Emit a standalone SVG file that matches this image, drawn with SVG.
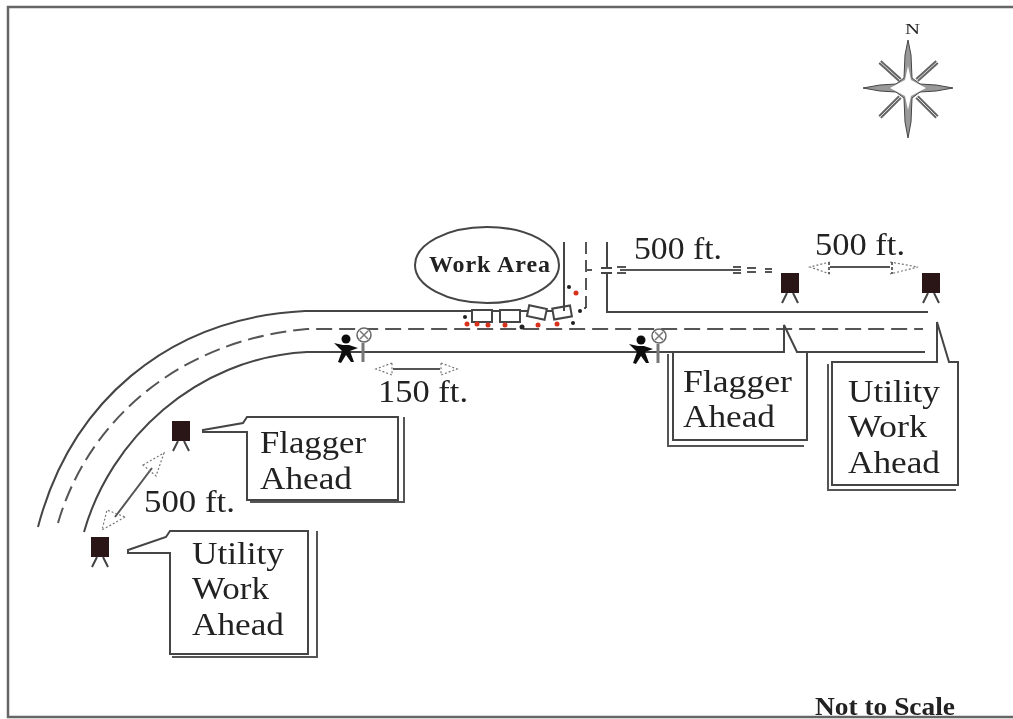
<svg xmlns="http://www.w3.org/2000/svg" width="1013" height="719" viewBox="0 0 1013 719">
<style>
.t{font-family:"Liberation Serif","Times New Roman",serif;fill:#222}
.l{font-size:30.500px}
.d{font-size:32px}
.r{fill:none;stroke:#444;stroke-width:2}
.a{fill:none;stroke:#555;stroke-width:2}
.box{fill:#fff;stroke:#444;stroke-width:2}
.sh{fill:none;stroke:#555;stroke-width:2}
.dot{fill:#222}.red{fill:#d8301a}
.hd{fill:none;stroke:#777;stroke-width:1.200;stroke-dasharray:2 2}
.tick{fill:none;stroke:#555;stroke-width:1.800}
.s{fill:#2a1216}
.leg{fill:none;stroke:#444;stroke-width:2}
</style>
<defs>
<filter id="soft" x="0" y="0" width="100%" height="100%"><feGaussianBlur stdDeviation="0.45"/></filter>
<g id="sign"><rect x="-9" y="-10" width="18" height="20" class="s"/><path class="leg" d="M-3 10L-8 20M3 10L8 20"/></g>
<g id="flagger"><circle cx="1" cy="-12" r="4.500" fill="#111"/><path d="M-11-8L-2-6L4-6L13-3L5 0L9 11L6 11L1 4L-4 12L-7 11L-3 0Z" fill="#111"/><path d="M18-8V11" stroke="#777" stroke-width="3"/><circle cx="19" cy="-16" r="7" fill="#fff" stroke="#666" stroke-width="1.500"/><path d="M15-20L23-12M23-20L15-12" stroke="#777" stroke-width="1.500"/></g>
</defs>
<g filter="url(#soft)">
<rect width="1013" height="719" fill="#fff"/>
<path id="frame" d="M1013 7H8V717H1013" fill="none" stroke="#666" stroke-width="2.500"/>
<g id="connectors">
<path class="r" d="M38 527C70 405 165 318 305 311H565"/>
<path class="r" d="M84 532C110 440 195 358 307 352H925"/>
<path class="a" d="M58 523C88 420 180 340 307 329H923" stroke-dasharray="16 7"/>
<path class="r" d="M564 242V311M607 242V267M607 274V312H928M601 268H612M601 273H612"/>
<path class="a" d="M586 242V310" stroke-dasharray="12 6"/>
<path class="a" d="M586 270H592"/>
<path class="a" d="M622 270H735"/>
<path class="tick" d="M617 267H626M620 270H628M617 273H626M733 267H741M731 270H741M733 273H741M747 268H756M747 272H756M765 269H772M765 272H772"/>
<path class="a" d="M830 267H890" stroke-width="1.500"/>
<path class="hd" d="M830 262L810 267L830 274M890 262L918 267L890 274"/>
<path class="tick" d="M829 262V274M892 262V274" stroke-dasharray="3 2"/>
<path class="a" d="M393 369H440"/>
<path class="hd" d="M392 363L376 369L392 375ZM441 363L457 369L441 375Z"/>
<path class="a" d="M115 517L152 468" stroke-width="1.500"/>
<path class="hd" d="M143 465L164 453L156 476ZM125 517L102 530L107 510Z"/>
</g>
<g id="work-area">
<ellipse cx="487" cy="265" rx="72" ry="38" fill="#fff" stroke="#444" stroke-width="2"/>
<text class="t" x="429" y="272" font-size="24" font-weight="bold" textLength="121">Work Area</text>
<g fill="#fff" stroke="#444" stroke-width="2">
<rect x="472" y="310" width="20" height="12"/><rect x="500" y="310" width="20" height="12"/>
<rect x="528" y="307" width="18" height="11" transform="rotate(12 537 312)"/>
<rect x="553" y="307" width="18" height="11" transform="rotate(-10 562 312)"/>
</g>
<path d="M564 242V311" stroke="#444" stroke-width="2"/>
<g class="red"><circle cx="467" cy="324" r="2.500"/><circle cx="477" cy="324" r="2.500"/><circle cx="488" cy="325" r="2.500"/><circle cx="505" cy="325" r="2.500"/><circle cx="538" cy="325" r="2.500"/><circle cx="557" cy="324" r="2.500"/><circle cx="576" cy="293" r="2.500"/></g>
<g class="dot"><circle cx="465" cy="317" r="2"/><circle cx="522" cy="327" r="2.500"/><circle cx="569" cy="287" r="2"/><circle cx="580" cy="311" r="2"/><circle cx="585" cy="308" r="1"/><circle cx="573" cy="323" r="2"/></g>
</g>
<g id="flagger-1"><use href="#flagger" x="345" y="351"/></g>
<g id="flagger-2"><use href="#flagger" x="640" y="352"/></g>
<g id="sign-1"><use href="#sign" x="181" y="431"/></g>
<g id="sign-2"><use href="#sign" x="100" y="547"/></g>
<g id="sign-3"><use href="#sign" x="790" y="283"/></g>
<g id="sign-4"><use href="#sign" x="931" y="283"/></g>
<g id="callout-flagger-west">
<path class="sh" d="M404 417V502H250"/>
<path class="box" d="M203 430L243 423L247 417H398V500H247V432H203Z"/>
<text class="t l" x="260" y="453" textLength="106" lengthAdjust="spacingAndGlyphs">Flagger</text><text class="t l" x="260" y="489" textLength="92" lengthAdjust="spacingAndGlyphs">Ahead</text>
</g>
<g id="callout-utility-west">
<path class="sh" d="M317 531V657H172"/>
<path class="box" d="M128 550L166 537L170 531H308V654H170V553H128Z"/>
<text class="t l" x="192" y="564" textLength="92" lengthAdjust="spacingAndGlyphs">Utility</text><text class="t l" x="192" y="599" textLength="77" lengthAdjust="spacingAndGlyphs">Work</text><text class="t l" x="192" y="635" textLength="92" lengthAdjust="spacingAndGlyphs">Ahead</text>
</g>
<g id="callout-flagger-east">
<path class="sh" d="M668 354V446H804"/>
<path class="box" d="M673 352H784V325L797 352H807V440H673Z"/>
<text class="t l" x="683" y="392" textLength="109" lengthAdjust="spacingAndGlyphs">Flagger</text><text class="t l" x="683" y="427" textLength="92" lengthAdjust="spacingAndGlyphs">Ahead</text>
</g>
<g id="callout-utility-east">
<path class="sh" d="M828 364V490H956"/>
<path class="box" d="M832 362H937V322L949 362H958V485H832Z"/>
<text class="t l" x="848" y="402" textLength="92" lengthAdjust="spacingAndGlyphs">Utility</text><text class="t l" x="848" y="437" textLength="79" lengthAdjust="spacingAndGlyphs">Work</text><text class="t l" x="848" y="473" textLength="92" lengthAdjust="spacingAndGlyphs">Ahead</text>
</g>
<g id="labels">
<text class="t d" x="634" y="259" textLength="88" lengthAdjust="spacingAndGlyphs">500 ft.</text>
<text class="t d" x="815" y="255" textLength="90" lengthAdjust="spacingAndGlyphs">500 ft.</text>
<text class="t d" x="378" y="402" textLength="90" lengthAdjust="spacingAndGlyphs">150 ft.</text>
<text class="t d" x="144" y="512" textLength="91" lengthAdjust="spacingAndGlyphs">500 ft.</text>
<text class="t" x="815" y="715" font-size="25" font-weight="bold" textLength="140" lengthAdjust="spacingAndGlyphs">Not to Scale</text>
</g>
<g id="compass">
<text class="t" x="905" y="34" font-size="14" textLength="15" lengthAdjust="spacingAndGlyphs" fill="#555">N</text>
<path d="M880 62L900 80M937 62L917 80M880 117L900 97M937 117L917 97" stroke="#666" stroke-width="4.500"/>
<path d="M880 62L900 80M937 62L917 80M880 117L900 97M937 117L917 97" stroke="#ddd" stroke-width="1"/>
<path d="M908 40L911 55L912 78L920 84L936 85L953 88L936 91L920 92L912 98L911 122L908 138L905 122L904 98L896 92L880 91L863 88L880 85L896 84L904 78L905 55Z" fill="#999" stroke="#444"/>
<path d="M908 66L911 80L926 88L911 96L908 110L905 96L890 88L905 80Z" fill="#fff"/>
</g>
</g>
</svg>
